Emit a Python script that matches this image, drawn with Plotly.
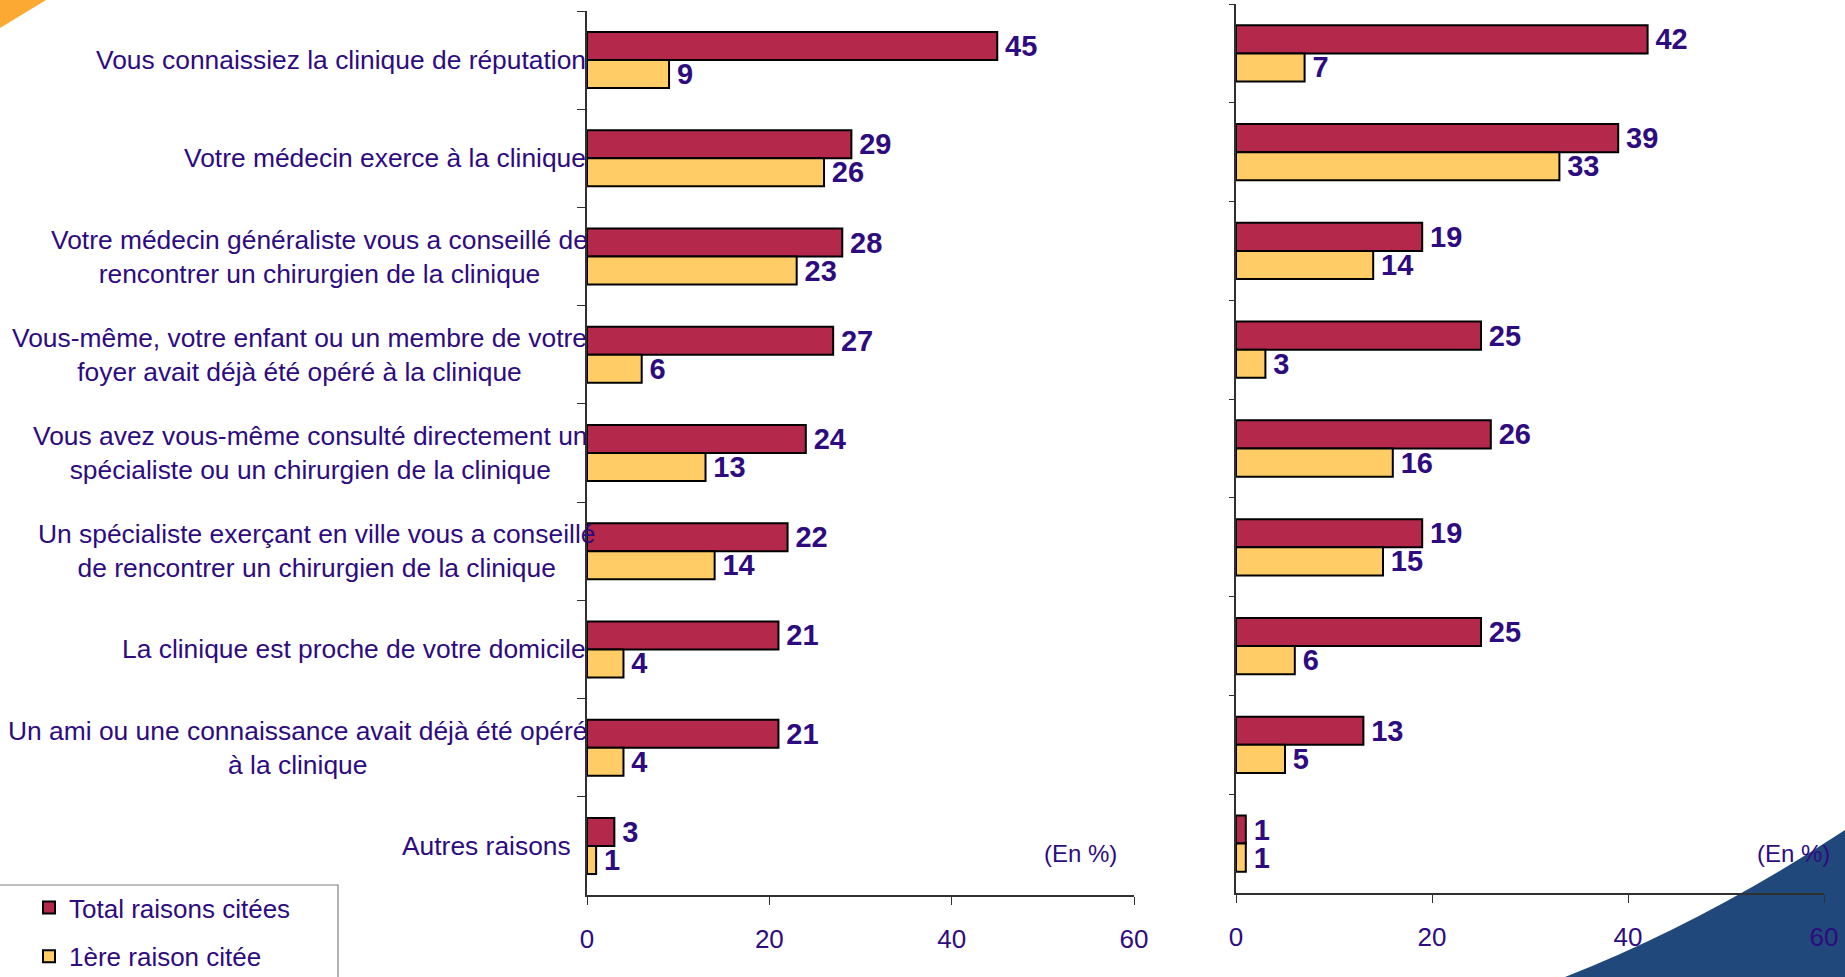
import plotly.graph_objects as go

# ── données ──────────────────────────────────────────
raisons = [
    "Vous connaissiez la clinique de réputation",
    "Votre médecin exerce à la clinique",
    "Votre médecin généraliste vous a conseillé de<br>rencontrer un chirurgien de la clinique",
    "Vous-même, votre enfant ou un membre de votre<br>foyer avait déjà été opéré à la clinique",
    "Vous avez vous-même consulté directement un<br>spécialiste ou un chirurgien de la clinique",
    "Un spécialiste exerçant en ville vous a conseillé<br>de rencontrer un chirurgien de la clinique",
    "La clinique est proche de votre domicile",
    "Un ami ou une connaissance avait déjà été opéré<br>à la clinique",
    "Autres raisons",
]
gauche_total = [45, 29, 28, 27, 24, 22, 21, 21, 3]
gauche_premiere = [9, 26, 23, 6, 13, 14, 4, 4, 1]
droite_total = [42, 39, 19, 25, 26, 19, 25, 13, 1]
droite_premiere = [7, 33, 14, 3, 16, 15, 6, 5, 1]
x_ticks = [0, 20, 40, 60]

# ── style ────────────────────────────────────────────
W, H = 1845, 977
FONT = "Arial, Liberation Sans, sans-serif"
VIOLET = "#2E0B7F"
ROUGE = "#B4284C"
JAUNE = "#FFCC66"
# petit décalage horizontal (px) de chaque libellé, comme dans la diapo d'origine
DECALAGES = [0, 0, 2, 1, 2, 9, 0, 2, -15]


def px_x(v):
    return v / W


def px_y(v):
    return 1 - v / H


def barres(x, couleur, nom, xa, ya, legende):
    return go.Bar(
        x=x, y=raisons, orientation="h", name=nom,
        marker=dict(color=couleur, line=dict(color="black", width=2)),
        texttemplate="\u2006%{x}", textposition="outside", constraintext="none",
        textfont=dict(family=FONT, size=29, color=VIOLET, weight="bold"),
        cliponaxis=False, xaxis=xa, yaxis=ya, showlegend=legende,
        legendgroup=nom,
    )


fig = go.Figure()
fig.add_trace(barres(gauche_total, ROUGE, "Total raisons citées", "x", "y", True))
fig.add_trace(barres(gauche_premiere, JAUNE, "1ère raison citée", "x", "y", True))
fig.add_trace(barres(droite_total, ROUGE, "Total raisons citées", "x2", "y2", False))
fig.add_trace(barres(droite_premiere, JAUNE, "1ère raison citée", "x2", "y2", False))

xaxe = dict(
    range=[0, 60], tickvals=x_ticks, ticks="outside", ticklen=8, tickcolor="#303030",
    showline=True, linecolor="#303030", linewidth=1.5, showgrid=False, zeroline=False,
    tickfont=dict(family=FONT, size=26, color=VIOLET), ticklabelstandoff=12,
    automargin=False, fixedrange=True,
)
yaxe = dict(
    type="category", autorange="reversed", tickson="boundaries", ticks="outside",
    ticklen=8, tickcolor="#303030", showticklabels=False, showline=True,
    linecolor="#303030", linewidth=1.5, showgrid=False, zeroline=False,
    automargin=False, fixedrange=True,
)

fig.update_layout(
    template="none",
    width=W, height=H,
    margin=dict(l=0, r=0, t=0, b=0, autoexpand=False),
    paper_bgcolor="white", plot_bgcolor="rgba(0,0,0,0)",
    barmode="group", bargap=0.43, bargroupgap=0,
    xaxis=dict(xaxe, domain=[px_x(587), px_x(1134)], anchor="y"),
    yaxis=dict(yaxe, domain=[px_y(895), px_y(11)], anchor="x"),
    xaxis2=dict(xaxe, domain=[px_x(1236), px_x(1824)], anchor="y2"),
    yaxis2=dict(yaxe, domain=[px_y(893), px_y(4)], anchor="x2", ticklen=5),
    legend=dict(
        x=px_x(29), y=px_y(884), xanchor="left", yanchor="top",
        bgcolor="rgba(0,0,0,0)", borderwidth=0,
        font=dict(family=FONT, size=26, color=VIOLET),
        itemwidth=30, tracegroupgap=12, traceorder="grouped",
    ),
    font=dict(family=FONT, color=VIOLET),
)

# libellés des raisons, centrés ligne à ligne, calés sur l'axe
for r, dx in zip(raisons, DECALAGES):
    fig.add_annotation(
        x=0, y=r, xref="x", yref="y", text=r, showarrow=False,
        xanchor="right", yanchor="middle", align="center", xshift=1 + dx,
        font=dict(family=FONT, size=26.4, color=VIOLET),
    )

for cx in (1080, 1793):
    fig.add_annotation(
        x=px_x(cx), y=px_y(853), xref="paper", yref="paper", text="(En %)",
        xanchor="center", yanchor="middle",
        showarrow=False, font=dict(family=FONT, size=24, color=VIOLET),
    )

# cadre de la légende (bord gauche et bas hors de l'image)
fig.add_shape(
    type="rect", xref="paper", yref="paper", layer="below",
    x0=-0.01, x1=px_x(338), y0=-0.05, y1=px_y(885),
    line=dict(color="#808080", width=1.2), fillcolor="white",
)

# décor de la diapositive
fig.add_shape(
    type="path", xref="paper", yref="paper", layer="below", line_width=0,
    fillcolor="#FBA933",
    path=f"M 0,1 L {px_x(46)},1 L 0,{px_y(28)} Z",
)
fig.add_shape(
    type="path", xref="paper", yref="paper", layer="below", line_width=0,
    fillcolor="#21487A",
    path=(f"M {px_x(1565)},0 Q {px_x(1705)},{px_y(922)} {px_x(1845)},{px_y(830)} "
          f"L 1,0 Z"),
)

fig.write_html(
    "out.html",
    config={"displayModeBar": False},
    post_script="document.body.style.margin='0';document.body.style.padding='0';",
)
